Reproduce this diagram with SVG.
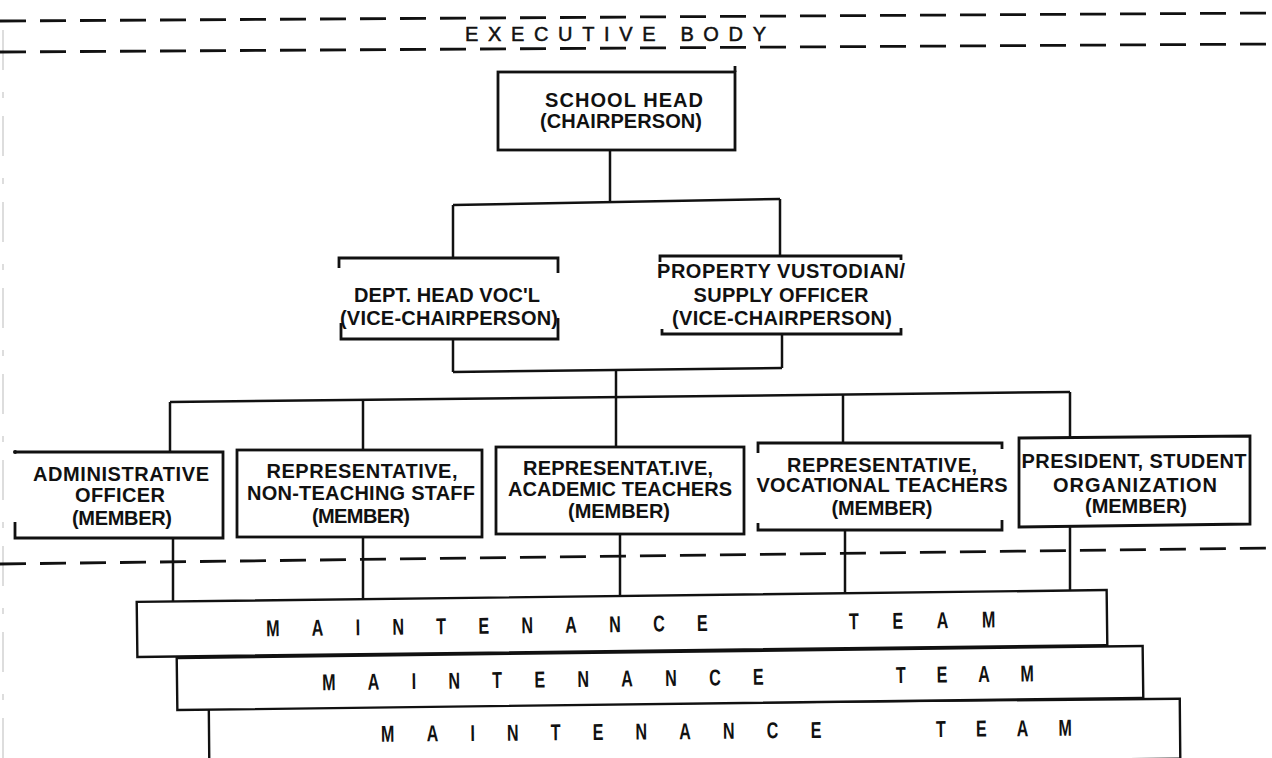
<svg xmlns="http://www.w3.org/2000/svg" width="1272" height="758" viewBox="0 0 1272 758">
<style>
.bg{fill:#fff}
.box{fill:none;stroke:#111;stroke-width:2.8;stroke-linejoin:miter}
.bar{fill:#fff;stroke:#111;stroke-width:2.4}
.con{fill:none;stroke:#111;stroke-width:2.5}
.dash{fill:none;stroke:#111;stroke-width:2.8;stroke-dasharray:26 14}
.t{font-family:"Liberation Sans",Arial,sans-serif;font-weight:bold;font-size:20px;fill:#111;text-anchor:middle}
.mt{font-family:"Liberation Sans",Arial,sans-serif;font-weight:bold;font-size:23px;fill:#111}
.hd{font-family:"Liberation Sans",Arial,sans-serif;font-size:20px;fill:#111;stroke:#111;stroke-width:0.5}
</style>
<rect class="bg" x="0" y="0" width="1272" height="758"/>

<g id="frame">
  <line x1="3" y1="30" x2="3" y2="758" stroke="#bbb" stroke-width="1" stroke-dasharray="40 22 6 18"/>
  <line class="dash" x1="0" y1="21" x2="1272" y2="13"/>
  <line class="dash" x1="0" y1="52" x2="1272" y2="44"/>
  <text class="hd" x="465" y="41" textLength="301" lengthAdjust="spacing">EXECUTIVE BODY</text>
  <line class="dash" x1="0" y1="564" x2="1272" y2="548" stroke-dasharray="25 14"/>
</g>

<g id="connectors">
  <path class="con" d="M610,150 V203"/>
  <path class="con" d="M453,205 L780,199"/>
  <path class="con" d="M453,205 V258"/>
  <path class="con" d="M780,199 V256"/>
  <path class="con" d="M453,339 V372"/>
  <path class="con" d="M782,334 V368"/>
  <path class="con" d="M453,372 L782,368"/>
  <path class="con" d="M616,370 V397"/>
  <path class="con" d="M170,402 L1070,392"/>
  <path class="con" d="M170,402 V452"/>
  <path class="con" d="M363,400 V450"/>
  <path class="con" d="M616,397 V447"/>
  <path class="con" d="M843,394 V443"/>
  <path class="con" d="M1070,392 V437"/>
  <path class="con" d="M173,538 V601"/>
  <path class="con" d="M363,537 V599"/>
  <path class="con" d="M620,534 V596"/>
  <path class="con" d="M845,530 V593"/>
  <path class="con" d="M1070,526 V590"/>
</g>

<g id="school-head">
  <rect class="box" x="498" y="72" width="237" height="78"/>
  <path class="box" d="M735,72 V66"/>
  <text class="t" x="624" y="107" textLength="158" lengthAdjust="spacing">SCHOOL HEAD</text>
  <text class="t" x="621" y="128" textLength="162" lengthAdjust="spacing">(CHAIRPERSON)</text>
</g>

<g id="dept-head">
  <path class="box" d="M339,268 V258 H558 V273"/>
  <path class="box" d="M341,323 V339 H558 V318"/>
  <text class="t" x="447" y="302" textLength="186" lengthAdjust="spacing">DEPT. HEAD VOC'L</text>
  <text class="t" x="449" y="325" textLength="218" lengthAdjust="spacing">(VICE-CHAIRPERSON)</text>
</g>

<g id="property-custodian">
  <path class="box" d="M660,262 V256 H901 V260"/>
  <path class="box" d="M662,329 V334 H901 V328"/>
  <text class="t" x="781" y="278" textLength="248" lengthAdjust="spacing">PROPERTY VUSTODIAN/</text>
  <text class="t" x="781" y="302" textLength="175" lengthAdjust="spacing">SUPPLY OFFICER</text>
  <text class="t" x="782" y="325" textLength="220" lengthAdjust="spacing">(VICE-CHAIRPERSON)</text>
</g>

<g id="admin-officer">
  <path class="box" d="M15,452 H223 V538 H15 V522"/>
  <circle cx="15" cy="452" r="2" fill="#111"/>
  <text class="t" x="121" y="481" textLength="176" lengthAdjust="spacing">ADMINISTRATIVE</text>
  <text class="t" x="120" y="502" textLength="90" lengthAdjust="spacing">OFFICER</text>
  <text class="t" x="122" y="525" textLength="100" lengthAdjust="spacing">(MEMBER)</text>
</g>

<g id="non-teaching">
  <rect class="box" x="237" y="450" width="245" height="87"/>
  <text class="t" x="362" y="478" textLength="191" lengthAdjust="spacing">REPRESENTATIVE,</text>
  <text class="t" x="361" y="500" textLength="228" lengthAdjust="spacing">NON-TEACHING STAFF</text>
  <text class="t" x="361" y="523" textLength="98" lengthAdjust="spacing">(MEMBER)</text>
</g>

<g id="academic-teachers">
  <rect class="box" x="496" y="447" width="248" height="87"/>
  <text class="t" x="618" y="475" textLength="190" lengthAdjust="spacing">REPRESENTAT.IVE,</text>
  <text class="t" x="620" y="496" textLength="224" lengthAdjust="spacing">ACADEMIC TEACHERS</text>
  <text class="t" x="619" y="518" textLength="102" lengthAdjust="spacing">(MEMBER)</text>
</g>

<g id="vocational-teachers">
  <path class="box" d="M758,453 V443 H1002 V449"/>
  <path class="box" d="M758,523 V530 H1002 V520"/>
  <text class="t" x="882" y="472" textLength="190" lengthAdjust="spacing">REPRESENTATIVE,</text>
  <text class="t" x="882" y="492" textLength="251" lengthAdjust="spacing">VOCATIONAL TEACHERS</text>
  <text class="t" x="882" y="515" textLength="101" lengthAdjust="spacing">(MEMBER)</text>
</g>

<g id="student-president">
  <path class="box" d="M1019,438 L1250,436 V524 L1019,527 Z"/>
  <text class="t" x="1134" y="468" textLength="225" lengthAdjust="spacing">PRESIDENT, STUDENT</text>
  <text class="t" x="1135" y="492" textLength="164" lengthAdjust="spacing">ORGANIZATION</text>
  <text class="t" x="1136" y="513" textLength="102" lengthAdjust="spacing">(MEMBER)</text>
</g>

<g id="maintenance-team-3" transform="rotate(-0.5 694 728)">
  <rect class="bar" x="209" y="703" width="971" height="60"/>
  <text class="mt" transform="translate(381 739) scale(0.7 1)" textLength="629" lengthAdjust="spacing">MAINTENANCE</text>
  <text class="mt" transform="translate(936 739) scale(0.7 1)" textLength="194" lengthAdjust="spacing">TEAM</text>
</g>

<g id="maintenance-team-2" transform="rotate(-0.72 660 678)">
  <rect class="bar" x="177" y="652" width="966" height="52"/>
  <text class="mt" transform="translate(322 686) scale(0.7 1)" textLength="631" lengthAdjust="spacing">MAINTENANCE</text>
  <text class="mt" transform="translate(896 686) scale(0.7 1)" textLength="197" lengthAdjust="spacing">TEAM</text>
</g>

<g id="maintenance-team-1" transform="rotate(-0.7 622 623)">
  <rect class="bar" x="137" y="596" width="970" height="55"/>
  <text class="mt" transform="translate(266 632) scale(0.7 1)" textLength="631" lengthAdjust="spacing">MAINTENANCE</text>
  <text class="mt" transform="translate(849 632) scale(0.7 1)" textLength="209" lengthAdjust="spacing">TEAM</text>
</g>
</svg>
